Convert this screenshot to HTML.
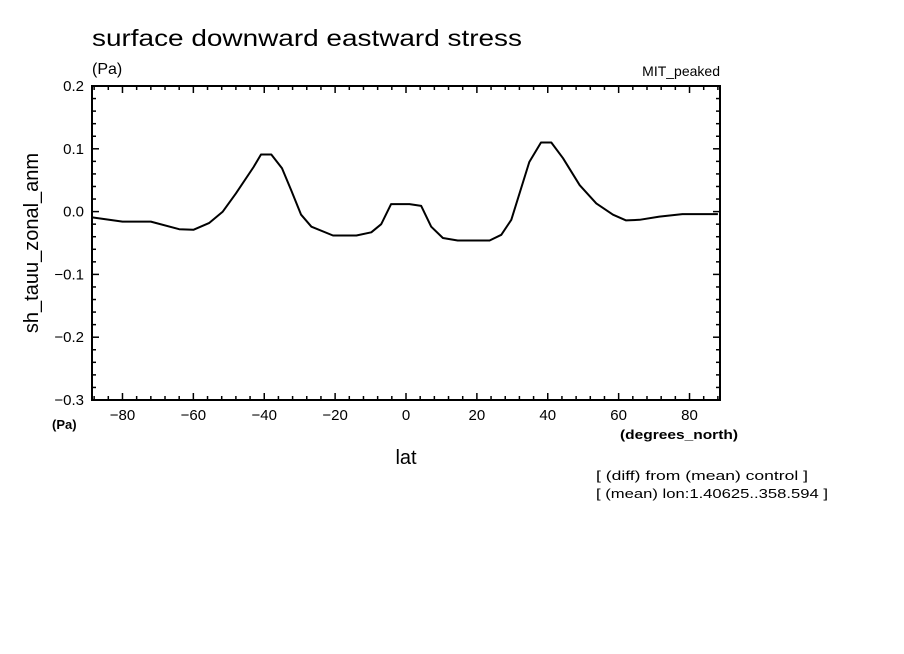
<!DOCTYPE html>
<html><head><meta charset="utf-8"><style>
html,body{margin:0;padding:0;background:#fff;}
svg{display:block;font-family:"Liberation Sans",sans-serif;}
</style></head><body>
<svg id="chart" width="904" height="654" viewBox="0 0 904 654">
<rect width="904" height="654" fill="#fff"/>
<text x="92" y="46" font-size="23" textLength="430" lengthAdjust="spacingAndGlyphs">surface downward eastward stress</text>
<text x="92" y="74" font-size="16">(Pa)</text>
<text x="720" y="76" font-size="14" text-anchor="end">MIT_peaked</text>
<g id="axes"></g>
<path id="line" fill="none" stroke="#000" stroke-width="2" stroke-linejoin="round"/>
<rect x="92" y="86" width="628" height="314" fill="none" stroke="#000" stroke-width="2"/>
<text x="38" y="243" font-size="20" text-anchor="middle" transform="rotate(-90 38 243)">sh_tauu_zonal_anm</text>
<text x="52" y="429" font-size="13" font-weight="bold">(Pa)</text>
<text x="620" y="439" font-size="13" font-weight="bold" textLength="118" lengthAdjust="spacingAndGlyphs">(degrees_north)</text>
<text x="406" y="464" font-size="20" text-anchor="middle">lat</text>
<text x="596" y="480" font-size="12.5" textLength="212" lengthAdjust="spacingAndGlyphs">[ (diff) from (mean) control ]</text>
<text x="596" y="498" font-size="12.5" textLength="232" lengthAdjust="spacingAndGlyphs">[ (mean) lon:1.40625..358.594 ]</text>
</svg>
<script>
const lats=[-88.8,-80,-72,-64,-60,-55.5,-51.7,-48,-43,-40.9,-38,-35,-32.4,-29.6,-26.7,-20.6,-14,-9.8,-7,-4.2,1,4.3,7.1,10.4,14.6,23.6,26.9,29.7,34.8,38.1,41,44.3,49,53.7,58.4,62.1,65.9,71.5,78,88];
const vals=[-0.009,-0.016,-0.016,-0.028,-0.029,-0.018,0,0.029,0.071,0.091,0.091,0.069,0.034,-0.005,-0.024,-0.038,-0.038,-0.033,-0.02,0.012,0.012,0.009,-0.024,-0.042,-0.046,-0.046,-0.037,-0.013,0.079,0.11,0.11,0.085,0.042,0.013,-0.005,-0.014,-0.013,-0.008,-0.004,-0.004];
const xTicks=[-80,-60,-40,-20,0,20,40,60,80];
const xTickLabels=["-80","-60","-40","-20","0","20","40","60","80"];
const yTicks=[0.2,0.1,0,-0.1,-0.2,-0.3];
const yTickLabels=["0.2","0.1","0.0","\u22120.1","\u22120.2","\u22120.3"];
const X0=92,X1=720,Y0=86,Y1=400,LMIN=-88.6,LMAX=88.6,VMIN=-0.3,VMAX=0.2;
const xs=l=>X0+(l-LMIN)/(LMAX-LMIN)*(X1-X0);
const ys=v=>Y1-(v-VMIN)/(VMAX-VMIN)*(Y1-Y0);
const NS="http://www.w3.org/2000/svg";
const ax=document.getElementById('axes');
function ln(x1,y1,x2,y2,name){const e=document.createElementNS(NS,'line');
e.setAttribute('x1',x1);e.setAttribute('y1',y1);e.setAttribute('x2',x2);e.setAttribute('y2',y2);
e.setAttribute('stroke','#000');e.setAttribute('stroke-width','1.5');


ax.appendChild(e);}
for(let l=-88;l<=88;l+=4){const x=xs(l);const maj=l%20===0;const L=maj?7:4;
ln(x,Y0,x,Y0+L,'x-tick');ln(x,Y1,x,Y1-L,'x-tick');}
for(let k=-15;k<=10;k++){const v=k*0.02;const y=ys(v);const maj=k%5===0;const L=maj?7:4;
ln(X0,y,X0+L,y,'y-tick');ln(X1,y,X1-L,y,'y-tick');}
xTicks.forEach((t,i)=>{const e=document.createElementNS(NS,'text');
e.setAttribute('x',xs(t));e.setAttribute('y',420);e.setAttribute('font-size','15');e.setAttribute('text-anchor','middle');
e.textContent=xTickLabels[i].replace('-','\u2212');


ax.appendChild(e);});
yTicks.forEach((t,i)=>{const e=document.createElementNS(NS,'text');
e.setAttribute('x',84);e.setAttribute('y',ys(t)+5);e.setAttribute('font-size','15');e.setAttribute('text-anchor','end');
e.textContent=yTickLabels[i];


ax.appendChild(e);});
document.getElementById('line').setAttribute('d',lats.map((l,i)=>(i?'L':'M')+xs(l).toFixed(1)+' '+ys(vals[i]).toFixed(1)).join(' '));
</script>
</body></html>
